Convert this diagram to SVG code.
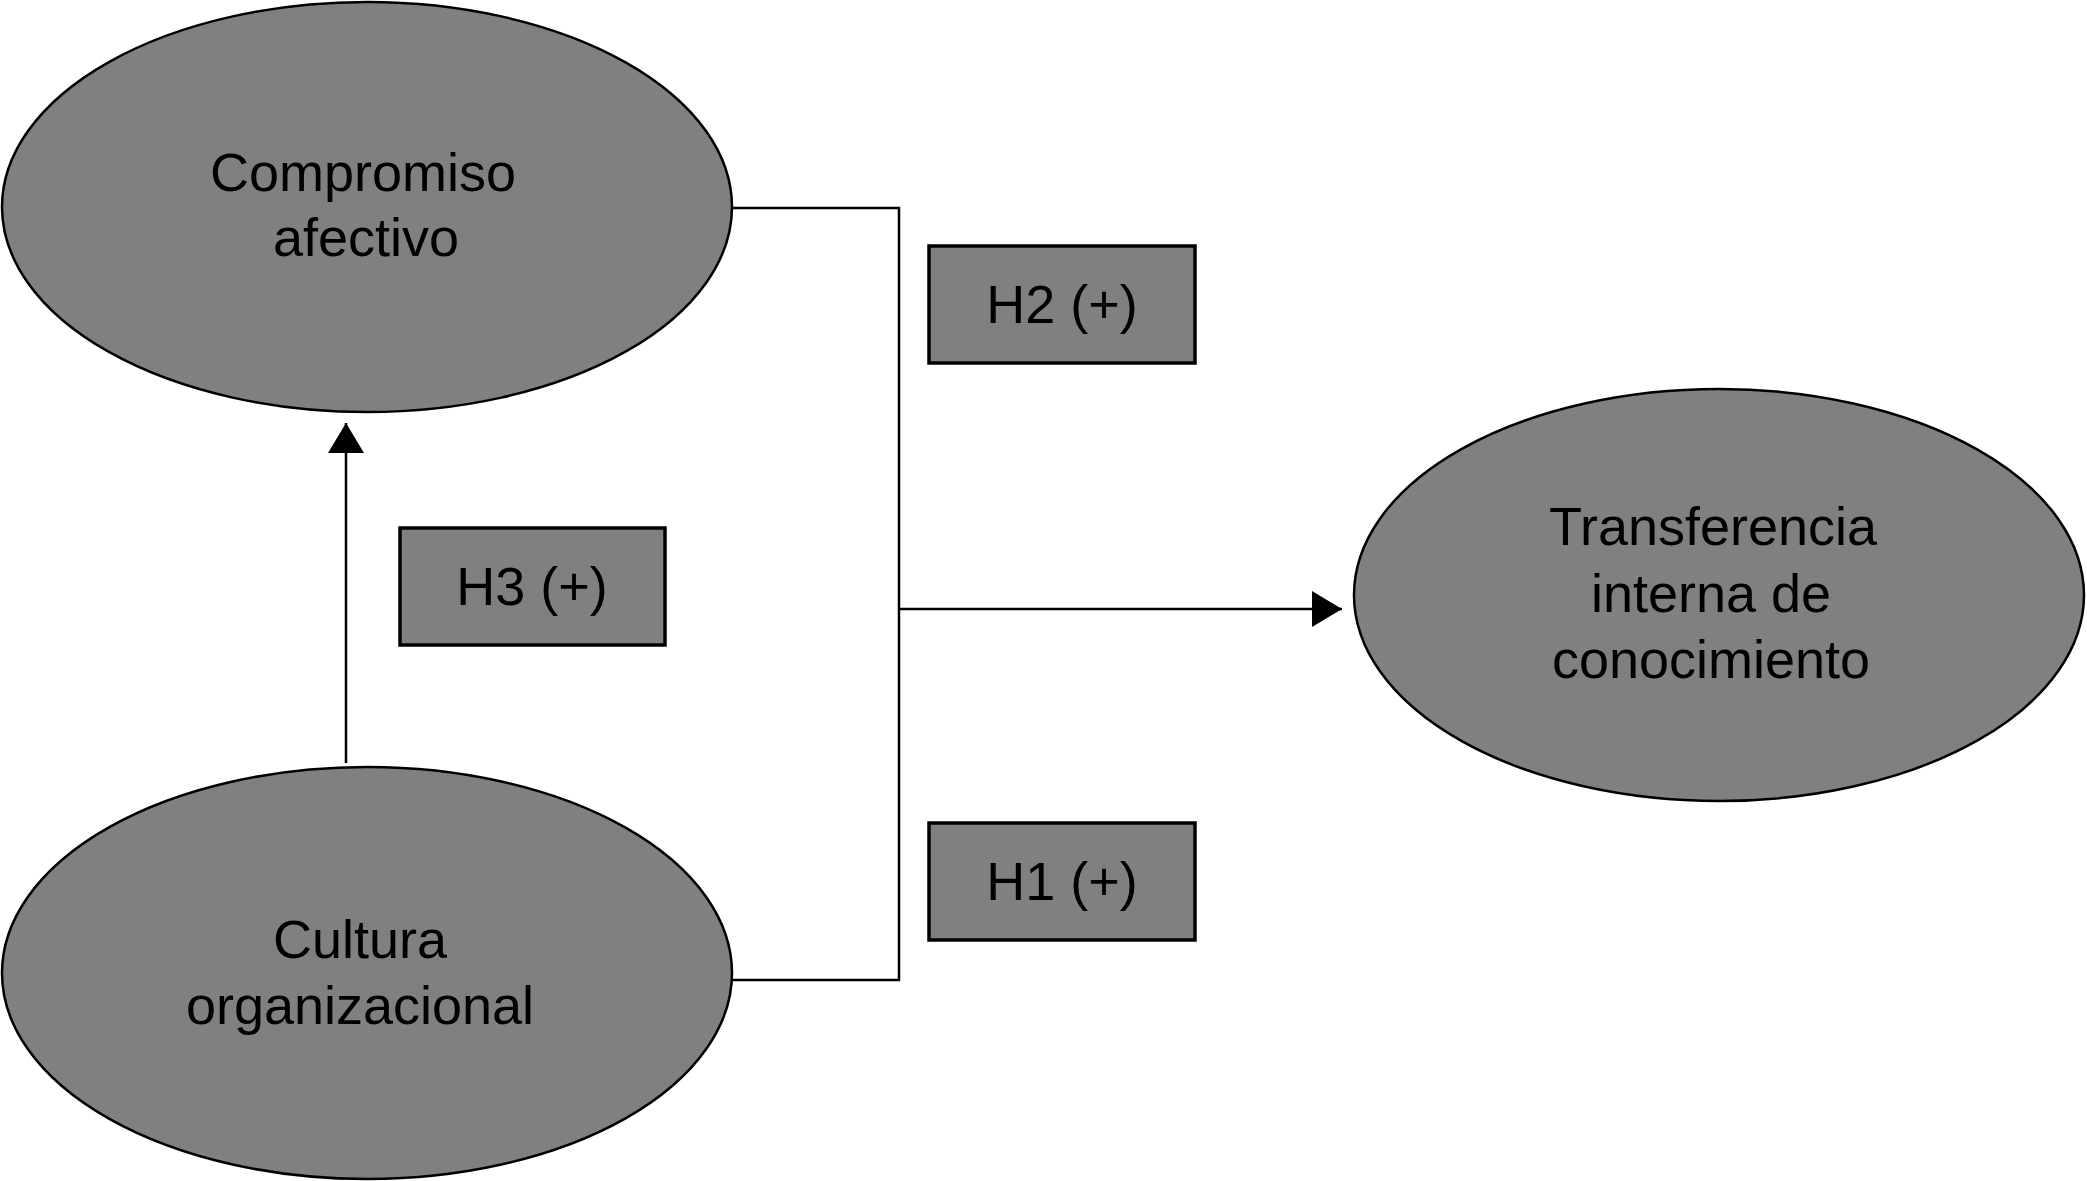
<svg xmlns="http://www.w3.org/2000/svg" width="2087" height="1181" viewBox="0 0 2087 1181">
<style>
.node{fill:#808080;stroke:#000;stroke-width:2.5}
.box{fill:#808080;stroke:#000;stroke-width:3.5}
.lbl{font-family:"Liberation Sans",Arial,sans-serif;font-size:54px;fill:#000;text-anchor:middle}
.conn{fill:none;stroke:#000;stroke-width:2.5}
</style>
<defs>
<marker id="arr" markerWidth="32" markerHeight="36" refX="30" refY="18" orient="auto" markerUnits="userSpaceOnUse">
<path d="M0,0 L30,18 L0,36 Z" fill="#000"/>
</marker>
</defs>
<rect width="2087" height="1181" fill="#fff"/>
<g id="connectors">
<polyline class="conn" points="732,208 899,208 899,980 732,980"/>
<line class="conn" x1="899" y1="609" x2="1342" y2="609" marker-end="url(#arr)"/>
<line class="conn" x1="346" y1="763" x2="346" y2="423" marker-end="url(#arr)"/>
</g>
<g id="compromiso">
<ellipse class="node" cx="367" cy="207" rx="365" ry="205"/>
<text class="lbl" x="363" y="191">Compromiso</text>
<text class="lbl" x="366" y="256">afectivo</text>
</g>
<g id="cultura">
<ellipse class="node" cx="367" cy="973" rx="365" ry="206"/>
<text class="lbl" x="360" y="958">Cultura</text>
<text class="lbl" x="360" y="1024">organizacional</text>
</g>
<g id="transferencia">
<ellipse class="node" cx="1719" cy="595" rx="365" ry="206"/>
<text class="lbl" x="1713" y="545">Transferencia</text>
<text class="lbl" x="1711" y="612">interna de</text>
<text class="lbl" x="1711" y="678">conocimiento</text>
</g>
<g id="h2">
<rect class="box" x="929" y="246" width="266" height="117"/>
<text class="lbl" x="1062" y="323">H2 (+)</text>
</g>
<g id="h3">
<rect class="box" x="400" y="528" width="265" height="117"/>
<text class="lbl" x="532" y="605">H3 (+)</text>
</g>
<g id="h1">
<rect class="box" x="929" y="823" width="266" height="117"/>
<text class="lbl" x="1062" y="900">H1 (+)</text>
</g>
</svg>
